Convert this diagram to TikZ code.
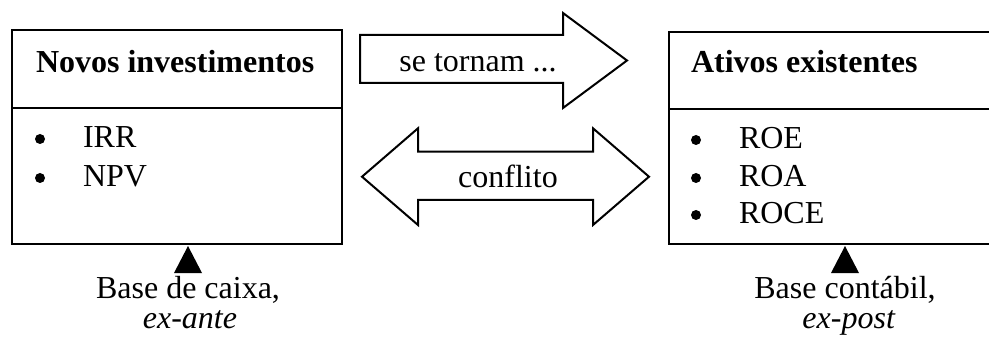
\documentclass[tikz,border=0pt]{standalone}
\usepackage{fontspec}
\setmainfont{Liberation Serif}
\begin{document}
\begin{tikzpicture}[x=1pt,y=1pt,line width=2pt,
  every node/.style={inner sep=0pt,font=\fontsize{32}{38}\selectfont},
  title/.style={anchor=base west,font=\fontsize{32}{38}\selectfont\bfseries},
  item/.style={anchor=base west},
  bul/.style={circle,fill=black,minimum size=10pt},
  lbl/.style={anchor=base},
  outline/.style={draw=black,line width=2pt,line join=miter},
  pointer/.style={fill=black,draw=none}]
\useasboundingbox (0,0) rectangle (989,346);
\clip (0,0) rectangle (989,346);
% left box
\draw[outline] (12,102) rectangle (342,316);
\draw[outline] (12,238) -- (342,238);
\node[title] (t1) at (35,273) {Novos investimentos};
\node[bul] (b1) at (40,207) {};
\node[item] (i1) at (82,198) {IRR};
\node[bul] (b2) at (40,168) {};
\node[item] (i2) at (82,159) {NPV};
% right box
\draw[outline] (669,102) rectangle (1000,314);
\draw[outline] (669,237) -- (1000,237);
\node[title] (t2) at (690,273) {Ativos existentes};
\node[bul] (b3) at (696,206) {};
\node[item] (i3) at (738,197) {ROE};
\node[bul] (b4) at (696,168) {};
\node[item] (i4) at (738,159) {ROA};
\node[bul] (b5) at (696,131) {};
\node[item] (i5) at (738,122) {ROCE};
% single arrow
\draw[outline] (360,311) -- (563,311) -- (563,333) -- (627,285.5) -- (563,238)
  -- (563,263) -- (360,263) -- cycle;
\node[lbl] (a1) at (478,274) {se tornam ...};
% double arrow
\draw[outline] (362,169.3) -- (418,217.7) -- (418,194.3) -- (593,194.3) -- (593,217.7)
  -- (649,169.3) -- (593,121) -- (593,146) -- (418,146) -- (418,121) -- cycle;
\node[lbl] (a2) at (508,158) {conflito};
% pointers and labels
\fill[pointer] (174,73) -- (202,73) -- (188,100) -- cycle;
\node[lbl] (l1) at (188,48) {Base de caixa,};
\node[lbl] (l2) at (190,18) {\textit{ex-ante}};
\fill[pointer] (831,73) -- (859,73) -- (845,100) -- cycle;
\node[lbl] (l3) at (845,48) {Base contábil,};
\node[lbl] (l4) at (849,18) {\textit{ex-post}};
\end{tikzpicture}
\end{document}
